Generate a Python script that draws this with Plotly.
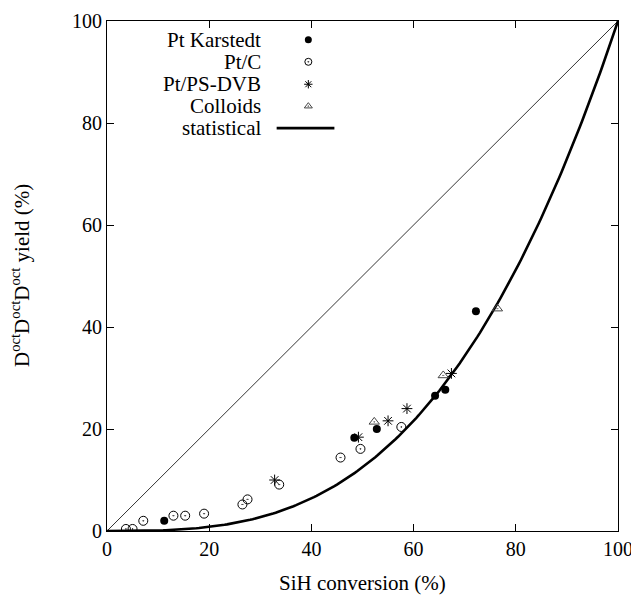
import numpy as np
import plotly.graph_objects as go

# Data
karstedt_x = [11.2, 48.4, 52.8, 64.2, 66.2, 72.2]
karstedt_y = [2.0, 18.3, 20.0, 26.5, 27.7, 43.1]

ptc_x = [3.7, 5.0, 7.1, 13.0, 15.3, 19.0, 26.5, 27.5, 33.7, 45.7, 49.6, 57.6]
ptc_y = [0.4, 0.4, 2.0, 3.0, 3.0, 3.4, 5.2, 6.2, 9.1, 14.4, 16.1, 20.4]

psdvb_x = [32.8, 49.2, 55.0, 58.7, 67.4]
psdvb_y = [10.0, 18.4, 21.6, 24.0, 30.9]

colloids_x = [52.3, 65.8, 76.4]
colloids_y = [21.4, 30.5, 43.6]

tick_vals = [0, 20, 40, 60, 80, 100]
legend_labels = ["Pt Karstedt", "Pt/C", "Pt/PS-DVB", "Colloids", "statistical"]
x_title = "SiH conversion (%)"
y_title = "D<sup>oct</sup>D<sup>oct</sup>D<sup>oct</sup> yield (%)"

conv = np.linspace(0, 100, 201)
stat = 100 * (conv / 100) ** 3

FONT = "Liberation Serif"
FS = 20
FT = 21
fig = go.Figure()

# diagonal reference
fig.add_trace(go.Scatter(x=[0, 100], y=[0, 100], mode="lines",
                         line=dict(color="black", width=0.8), showlegend=False))
# statistical curve
fig.add_trace(go.Scatter(x=conv, y=stat, mode="lines",
                         line=dict(color="black", width=2.6), showlegend=False))

styles = [
    dict(symbol="circle", size=8, color="black", line=dict(width=0, color="black")),
    dict(symbol="circle-open-dot", size=9, color="black", line=dict(width=1, color="black")),
    dict(symbol="asterisk-open", size=9, color="black", line=dict(width=1, color="black")),
    dict(symbol="triangle-up-open-dot", size=9, color="#444", line=dict(width=1, color="#444")),
]
series = [(karstedt_x, karstedt_y), (ptc_x, ptc_y), (psdvb_x, psdvb_y), (colloids_x, colloids_y)]
for (xs, ys), st in zip(series, styles):
    fig.add_trace(go.Scatter(x=xs, y=ys, mode="markers", marker=st, showlegend=False))

# custom legend (text left of keys) on overlay axes
ly = [0.963, 0.920, 0.876, 0.833, 0.790]
for i, st in enumerate(styles):
    s = dict(st)
    s["size"] = 7
    fig.add_trace(go.Scatter(x=[0.394], y=[ly[i]], mode="markers", marker=s,
                             xaxis="x2", yaxis="y2", showlegend=False))
fig.add_trace(go.Scatter(x=[0.332, 0.445], y=[ly[4], ly[4]], mode="lines",
                         line=dict(color="black", width=2.6),
                         xaxis="x2", yaxis="y2", showlegend=False))
for lab, yy in zip(legend_labels, ly):
    fig.add_annotation(x=0.306, y=yy, xref="x2", yref="y2", text=lab, showarrow=False,
                       xanchor="right", yanchor="middle",
                       font=dict(family=FONT, size=FT, color="black"))

# axis titles as annotations
fig.add_annotation(x=0.5, y=0, xref="paper", yref="paper", text=x_title, showarrow=False,
                   xanchor="center", yanchor="middle", yshift=-52,
                   font=dict(family=FONT, size=FT, color="black"))
fig.add_annotation(x=0, y=0.5, xref="paper", yref="paper", text=y_title, showarrow=False,
                   textangle=-90, xanchor="center", yanchor="middle", xshift=-87,
                   font=dict(family=FONT, size=FT, color="black"))

axis_common = dict(range=[0, 100], tickvals=tick_vals, ticks="inside", ticklen=7,
                   tickwidth=1, tickcolor="black", showline=True, linecolor="black",
                   linewidth=1.2, mirror="ticks", showgrid=False, zeroline=False,
                   automargin=False,
                   tickfont=dict(family=FONT, size=FS, color="black"))

fig.update_layout(
    width=639, height=596,
    margin=dict(l=99, r=29, t=13, b=73),
    plot_bgcolor="white", paper_bgcolor="white",
    font=dict(family=FONT, color="black"),
    xaxis=dict(**axis_common),
    yaxis=dict(**axis_common),
    xaxis2=dict(range=[0, 1], overlaying="x", visible=False),
    yaxis2=dict(range=[0, 1], overlaying="y", visible=False),
    showlegend=False,
)

fig.write_html("out.html")
